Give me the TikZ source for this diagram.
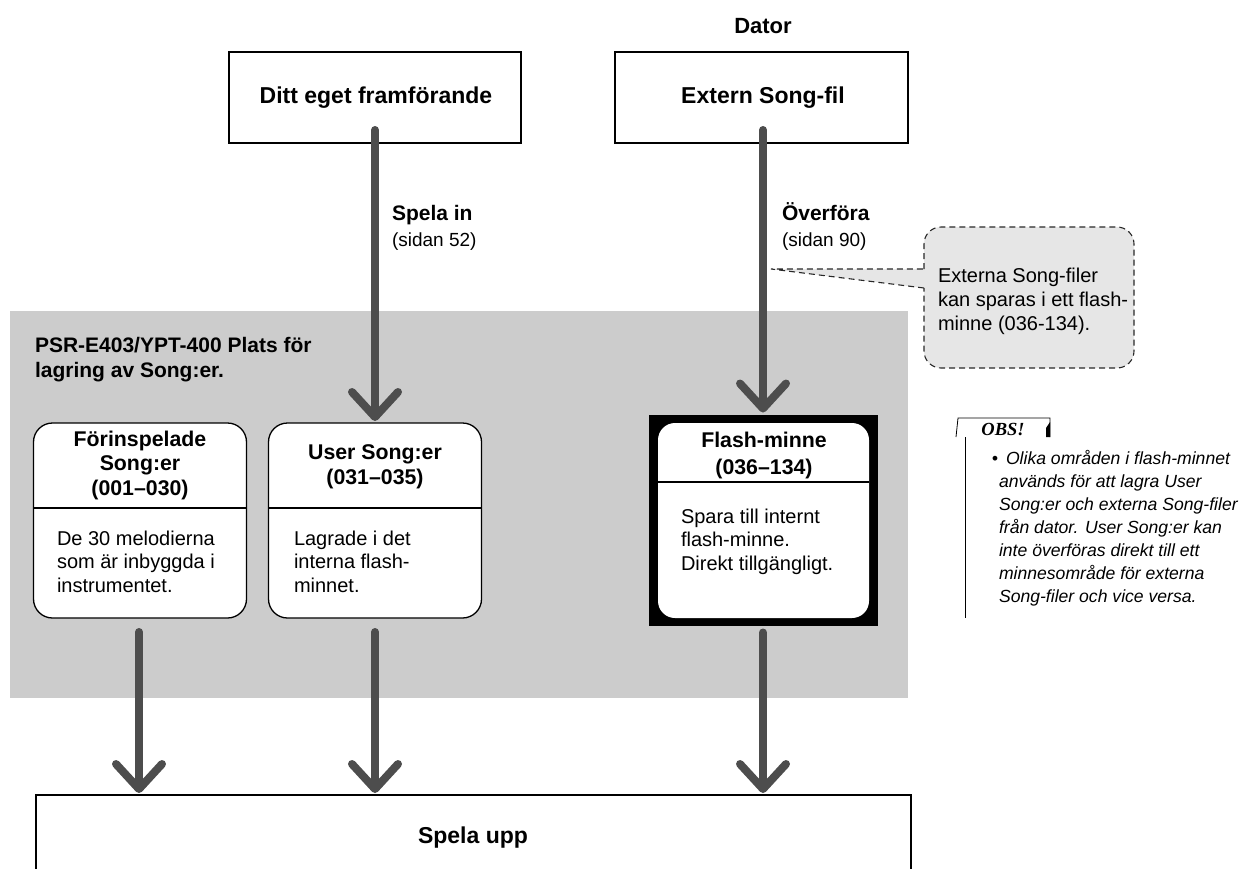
\documentclass[tikz,border=0pt]{standalone}
\usepackage{fontspec}
\setmainfont{Liberation Sans}
\newfontfamily\obsserif{Liberation Serif}
\usetikzlibrary{arrows.meta}
\definecolor{arrowgray}{RGB}{77,77,77}
\definecolor{regiongray}{RGB}{204,204,204}
\definecolor{calloutgray}{RGB}{230,230,230}
\definecolor{dashgray}{RGB}{40,40,40}
\begin{document}
\begin{tikzpicture}[x=1pt,y=-1pt,
  every node/.style={inner sep=0pt, outer sep=0pt},
  flow/.style={draw=arrowgray, line width=8pt, line cap=round,
    -{Straight Barb[length=25pt,width=46pt,round]}, shorten >=2pt},
  topbox/.style={draw=black, line width=2.2pt, fill=white, minimum width=292pt, minimum height=91pt},
  songbox/.style={draw=black, line width=1.3pt, fill=white, rounded corners=19pt,
    minimum width=213pt, minimum height=195pt},
  bigttl/.style={font=\bfseries\fontsize{23}{27}\selectfont, anchor=base},
  lbl/.style={font=\bfseries\fontsize{21}{25}\selectfont, anchor=base west},
  pagelbl/.style={font=\fontsize{19}{23}\selectfont, anchor=base west},
  ttl/.style={font=\bfseries\fontsize{21.3}{24.5}\selectfont, align=center, anchor=base},
  body/.style={font=\fontsize{20}{23.5}\selectfont, align=left, anchor=base west},
  notetext/.style={font=\itshape\fontsize{17.6}{23}\selectfont, align=left, anchor=base west},
  divider/.style={draw=black, line width=1.3pt},
  cdash/.style={draw=dashgray, line width=1.1pt, dash pattern=on 6pt off 4pt},
]
\useasboundingbox (0,0) rectangle (1247,868);
\clip (0,0) rectangle (1247,868);

% storage region
\node[fill=regiongray, minimum width=898pt, minimum height=387pt, anchor=north west] (region) at (10,311) {};
\node[lbl, align=left] (regionlbl) at (35,377) {PSR-E403/YPT-400 Plats för\\lagring av Song:er.};

% top
\node[bigttl, font=\bfseries\fontsize{22}{26}\selectfont] (dator) at (763,33) {Dator};
\node[topbox] (own) at (375,97.5) {};
\node[bigttl] (ownlbl) at (376,103) {Ditt eget framförande};
\node[topbox, minimum width=293pt] (ext) at (761.5,97.5) {};
\node[bigttl] (extlbl) at (763,103) {Extern Song-fil};

% song boxes
\node[songbox] (pre) at (140,520.5) {};
\draw[divider] (pre.west |- 0,508) -- (pre.east |- 0,508);
\node[ttl] (pretitle) at (140,495) {Förinspelade\\Song:er\\(001–030)};
\node[body] (prebody) at (57,592) {De 30 melodierna\\som är inbyggda i\\instrumentet.};

\node[songbox] (user) at (375,520.5) {};
\draw[divider] (user.west |- 0,508) -- (user.east |- 0,508);
\node[ttl] (usertitle) at (375,484) {User Song:er\\(031–035)};
\node[body] (userbody) at (294,592) {Lagrade i det\\interna flash-\\minnet.};

\node[fill=black, minimum width=229pt, minimum height=211pt] (flash) at (763,520) {};
\node[songbox, draw=none, rounded corners=17pt, minimum width=211pt, minimum height=195pt] (flashin) at (763.5,520.5) {};
\draw[divider] (flashin.west |- 0,482) -- (flashin.east |- 0,482);
\node[ttl, font=\bfseries\fontsize{21.3}{27}\selectfont] (flashtitle) at (764,474) {Flash-minne\\(036–134)};
\node[body] (flashbody) at (681,570) {Spara till internt\\flash-minne.\\Direkt tillgängligt.};

% play box
\node[draw=black, line width=2.4pt, fill=white, minimum width=875pt, minimum height=110pt, anchor=north west] (play) at (36,795) {};
\node[bigttl] (playlbl) at (473,843) {Spela upp};

% flows
\draw[flow] ([yshift=13pt]own.south) -- (user.north);
\draw[flow] ([yshift=13pt]ext.south -| 763,0) -- (flash.north);
\draw[flow] ([yshift=-14pt]pre.south -| 139,0) -- (139,0 |- play.north);
\draw[flow] ([yshift=-14pt]user.south) -- (user.south |- play.north);
\draw[flow] ([yshift=-7pt]flash.south) -- (flash.south |- play.north);

\node[lbl] (rec) at (392,220) {Spela in};
\node[pagelbl] (recp) at (392,246) {(sidan 52)};
\node[lbl] (xfer) at (782,220) {Överföra};
\node[pagelbl] (xferp) at (782,246) {(sidan 90)};

% callout
\node[fill=calloutgray, rounded corners=17pt, minimum width=210pt, minimum height=141pt, anchor=north west] (callout) at (924,227) {};
\coordinate (ptip) at (771,269);
\fill[calloutgray] (ptip) -- (924,269) -- (924,288) -- cycle;
\draw[cdash, rounded corners=17pt] (924,269) -- (callout.north west) -- (callout.north east) -- (callout.south east) -- (callout.south west) -- (924,288);
\draw[cdash] (924,288) -- (ptip) -- (924,269);
\node[body, font=\fontsize{20}{24}\selectfont] (callouttxt) at (938,330) {Externa Song-filer\\kan sparas i ett flash-\\minne (036-134).};

% OBS note
\draw[line width=0.8pt] (956,437) -- (958,418) -- (1050,418) -- (1050,437);
\fill (1046,428) -- (1050,422) -- (1050,437) -- (1046,437) -- cycle;
\node[anchor=base, font=\obsserif\bfseries\itshape\fontsize{18.5}{20}\selectfont] (obs) at (1003,435) {OBS!};
\draw[line width=0.8pt] (965,437) -- (965,618);
\node[anchor=base, font=\itshape\fontsize{17.6}{23}\selectfont] (bullet) at (995,464) {•};
\node[notetext] (obsfirst) at (1006,464) {Olika områden i flash-minnet};
\node[notetext] (obstxt) at (999,602) {används för att lagra User\\Song:er och externa Song-filer\\från dator. User Song:er kan\\inte överföras direkt till ett\\minnesområde för externa\\Song-filer och vice versa.};
\end{tikzpicture}
\end{document}
